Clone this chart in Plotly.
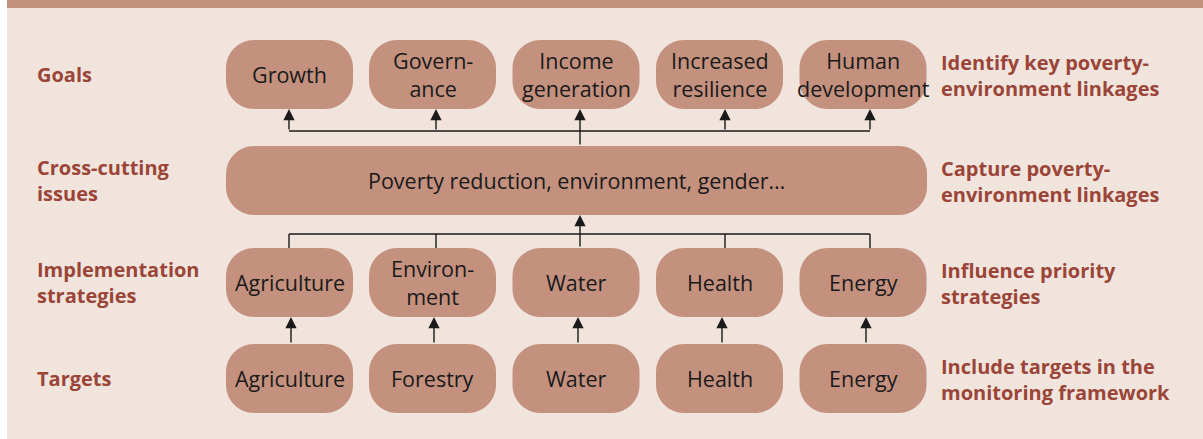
import plotly.graph_objects as go

# ---------------- data ----------------
row_labels = ["Goals", "Cross-cutting<br>issues", "Implementation<br>strategies", "Targets"]
right_labels = ["Identify key poverty-<br>environment linkages",
                "Capture poverty-<br>environment linkages",
                "Influence priority<br>strategies",
                "Include targets in the<br>monitoring framework"]
goals = ["Growth", "Govern-<br>ance", "Income<br>generation", "Increased<br>resilience", "Human<br>development"]
cross_cutting = "Poverty reduction, environment, gender…"
strategies = ["Agriculture", "Environ-<br>ment", "Water", "Health", "Energy"]
targets = ["Agriculture", "Forestry", "Water", "Health", "Energy"]

# ---------------- geometry (pixels) ----------------
W, H = 1203, 439
col_c = [289.5, 432.5, 576, 719.5, 863]
box_w, box_h, rad = 127, 69, 28
row_top = {"goal": 40, "cross": 146, "impl": 248, "target": 344}
bar_x0, bar_x1 = 226, 927
conn_x = [289, 436, 580, 725, 870]          # connector positions
tgt_arrow_x = [291, 434, 578, 722, 866]
conn_y_top, conn_y_bot = 131, 234

BG = "#f0e4dd"
BOX = "#c4917e"
LAB = "#9b4538"
INK = "#1a1a1a"
FONT = "Open Sans"

def rrect(x0, y0, x1, y1, r):
    k = 0.5523 * r
    return (f"M{x0+r},{y0} L{x1-r},{y0} C{x1-r+k},{y0} {x1},{y0+r-k} {x1},{y0+r} "
            f"L{x1},{y1-r} C{x1},{y1-r+k} {x1-r+k},{y1} {x1-r},{y1} "
            f"L{x0+r},{y1} C{x0+r-k},{y1} {x0},{y1-r+k} {x0},{y1-r} "
            f"L{x0},{y0+r} C{x0},{y0+r-k} {x0+r-k},{y0} {x0+r},{y0} Z")

shapes = []
annotations = []

# background panel and top band
shapes.append(dict(type="rect", x0=7, x1=W, y0=8, y1=H, fillcolor=BG, line=dict(width=0), layer="below"))
shapes.append(dict(type="rect", x0=7, x1=W, y0=0, y1=8, fillcolor=BOX, line=dict(width=0), layer="below"))

def add_box(x0, y0, x1, y1, text):
    shapes.append(dict(type="path", path=rrect(x0, y0, x1, y1, rad), fillcolor=BOX,
                       line=dict(width=0), layer="below"))
    annotations.append(dict(x=(x0 + x1) / 2, y=(y0 + y1) / 2, xref="x", yref="y", text=text,
                            showarrow=False, font=dict(family=FONT, size=21.5, color=INK),
                            xanchor="center", yanchor="middle", align="center"))

for c, t in zip(col_c, goals):
    add_box(c - box_w / 2, row_top["goal"], c + box_w / 2, row_top["goal"] + box_h, t)
for c, t in zip(col_c, strategies):
    add_box(c - box_w / 2, row_top["impl"], c + box_w / 2, row_top["impl"] + box_h, t)
for c, t in zip(col_c, targets):
    add_box(c - box_w / 2, row_top["target"], c + box_w / 2, row_top["target"] + box_h, t)
add_box(bar_x0, row_top["cross"], bar_x1, row_top["cross"] + box_h, cross_cutting)

# side labels
row_cy = [row_top["goal"] + box_h / 2, row_top["cross"] + box_h / 2,
          row_top["impl"] + box_h / 2, row_top["target"] + box_h / 2]
for cy, lab in zip(row_cy, row_labels):
    annotations.append(dict(x=35, y=cy, xref="x", yref="y", text=lab, showarrow=False,
                            xanchor="left", yanchor="middle", align="left",
                            font=dict(family=FONT, size=20, color=LAB, weight="bold")))
for cy, lab in zip(row_cy, right_labels):
    annotations.append(dict(x=939, y=cy + 1, xref="x", yref="y", text=lab, showarrow=False,
                            xanchor="left", yanchor="middle", align="left",
                            font=dict(family=FONT, size=20, color=LAB, weight="bold")))

lw = 1.4
def line(x0, y0, x1, y1):
    shapes.append(dict(type="line", x0=x0, y0=y0, x1=x1, y1=y1, line=dict(color=INK, width=lw)))

def arrow(x, y_tail, y_tip):
    annotations.append(dict(x=x, y=y_tip, ax=x, ay=y_tail, xref="x", yref="y", axref="x", ayref="y",
                            text="", showarrow=True, arrowhead=2, arrowsize=1.6, arrowwidth=lw,
                            arrowcolor=INK, standoff=0, startstandoff=0))

goal_bottom = row_top["goal"] + box_h
bar_top = row_top["cross"]
bar_bottom = row_top["cross"] + box_h
impl_top = row_top["impl"]
impl_bottom = row_top["impl"] + box_h
tgt_top = row_top["target"]

# goals connector
line(conn_x[0], conn_y_top, conn_x[-1], conn_y_top)
for i, x in enumerate(conn_x):
    arrow(x, bar_top if i == 2 else conn_y_top, goal_bottom)
# strategies connector
line(conn_x[0], conn_y_bot, conn_x[-1], conn_y_bot)
for i, x in enumerate(conn_x):
    if i == 2:
        arrow(x, impl_top, bar_bottom)
    else:
        line(x, conn_y_bot, x, impl_top)
# targets -> strategies
for x in tgt_arrow_x:
    arrow(x, tgt_top, impl_bottom)

fig = go.Figure()
fig.add_trace(go.Scatter(x=[0, W], y=[0, H], mode="markers", marker=dict(opacity=0), hoverinfo="skip",
                         showlegend=False))
fig.update_layout(width=W, height=H, margin=dict(l=0, r=0, t=0, b=0),
                  paper_bgcolor="white", plot_bgcolor="white",
                  xaxis=dict(range=[0, W], visible=False, fixedrange=True),
                  yaxis=dict(range=[H, 0], visible=False, fixedrange=True),
                  shapes=shapes, annotations=annotations, showlegend=False)
fig.write_html("out.html", config={"displayModeBar": False},
               post_script="document.body.style.margin='0';document.body.style.overflow='hidden';")
